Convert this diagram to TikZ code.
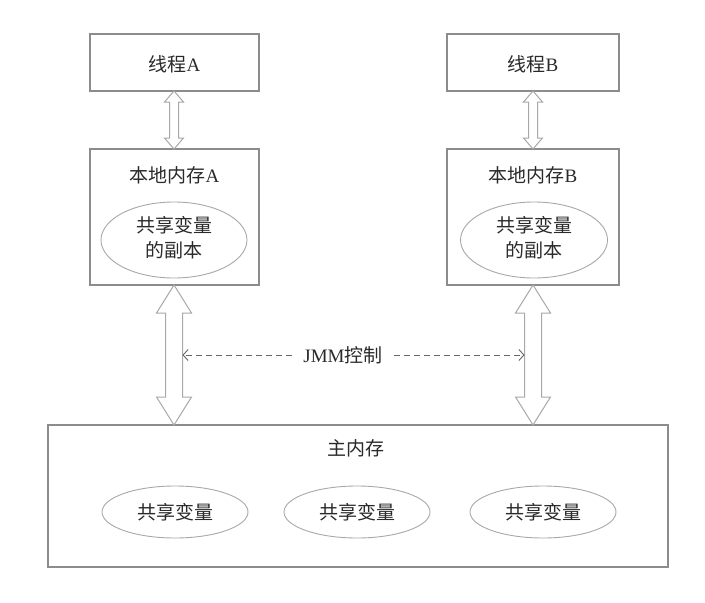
\documentclass[tikz,border=0pt]{standalone}
\usepackage{fontspec}
\setmainfont{Liberation Serif}
\newfontfamily\cjk{Noto Sans CJK SC}
\usetikzlibrary{arrows.meta,calc,shapes.geometric}
\definecolor{boxline}{HTML}{8C8C8C}
\definecolor{ellline}{HTML}{A8A8A8}
\definecolor{txt}{HTML}{2A2A2A}
\definecolor{dashcol}{HTML}{666666}
\tikzset{
  box/.style={draw=boxline, line width=1.1pt, rectangle, inner sep=0pt},
  ell/.style={draw=ellline, line width=0.9pt, ellipse, inner sep=0pt},
  lbl/.style={text=txt, font=\fontsize{19}{25}\selectfont, inner sep=0pt, align=center},
  fat/.style={draw=ellline, line width=1pt, fill=white, line join=miter},
  dashline/.style={draw=dashcol, line width=0.9pt, dash pattern=on 6pt off 4pt, -{Straight Barb[length=5pt,width=11pt]}},
}
% #1 top tip node/coord, #2 bottom tip, #3 half shaft, #4 half head, #5 head length
\newcommand\fatarrow[5]{%
  \draw[fat] let \p1=(#1), \p2=(#2) in
    (\x1,\y1) -- (\x1+#4pt,\y1-#5pt) -- (\x1+#3pt,\y1-#5pt) -- (\x1+#3pt,\y2+#5pt)
    -- (\x1+#4pt,\y2+#5pt) -- (\x1,\y2) -- (\x1-#4pt,\y2+#5pt) -- (\x1-#3pt,\y2+#5pt)
    -- (\x1-#3pt,\y1-#5pt) -- (\x1-#4pt,\y1-#5pt) -- cycle;}
\begin{document}
\begin{tikzpicture}[x=1pt,y=-1pt]
\useasboundingbox[fill=white] (0,0) rectangle (705,603);
% threads
\node[box, minimum width=169pt, minimum height=57pt] (tA) at (174.5,62.5) {};
\node[lbl] (tAl) at (174.5,64) {{\cjk 线程}A};
\node[box, minimum width=172pt, minimum height=57pt] (tB) at (533,62.5) {};
\node[lbl] (tBl) at (533,64) {{\cjk 线程}B};
% local memories
\node[box, minimum width=169pt, minimum height=136pt] (lA) at (174.5,217) {};
\node[lbl] (lAl) at (174.5,175) {{\cjk 本地内存}A};
\node[ell, minimum width=146pt, minimum height=76pt] (eA) at (174,240) {};
\node[lbl] (eAl) at (174,238) {\cjk 共享变量\\\cjk 的副本};
\node[box, minimum width=172pt, minimum height=136pt] (lB) at (533,217) {};
\node[lbl] (lBl) at (533,175) {{\cjk 本地内存}B};
\node[ell, minimum width=147pt, minimum height=76pt] (eB) at (534,240) {};
\node[lbl] (eBl) at (534,238) {\cjk 共享变量\\\cjk 的副本};
% main memory
\node[box, minimum width=620pt, minimum height=142pt] (mm) at (358,496) {};
\node[lbl] (mml) at (356,448) {\cjk 主内存};
\node[ell, minimum width=146pt, minimum height=52pt] (s1) at (175,512) {};
\node[lbl] at (s1) {\cjk 共享变量};
\node[ell, minimum width=146pt, minimum height=52pt] (s2) at (357,512) {};
\node[lbl] at (s2) {\cjk 共享变量};
\node[ell, minimum width=146pt, minimum height=52pt] (s3) at (543,512) {};
\node[lbl] at (s3) {\cjk 共享变量};
% small double arrows
\coordinate (aTop) at (174,91);
\coordinate (aBot) at (174,149);
\coordinate (bTop) at (533,91);
\coordinate (bBot) at (533,149);
\fatarrow{aTop}{aBot}{4.5}{9.5}{11}
\fatarrow{bTop}{bBot}{4.5}{9.5}{11}
% big double arrows
\coordinate (AT) at (174,285);
\coordinate (AB) at (174,425);
\coordinate (BT) at (533,285);
\coordinate (BB) at (533,425);
\fatarrow{AT}{AB}{8.5}{17.5}{28}
\fatarrow{BT}{BB}{8.5}{17.5}{28}
% JMM control
\node[lbl, inner xsep=11pt] (jmm) at (343,355) {JMM{\cjk 控制}};
\coordinate (dA) at (182.5,355);
\coordinate (dB) at (524.5,355);
\draw[dashline] (jmm.west) -- (dA);
\draw[dashline] (jmm.east) -- (dB);
\end{tikzpicture}
\end{document}
